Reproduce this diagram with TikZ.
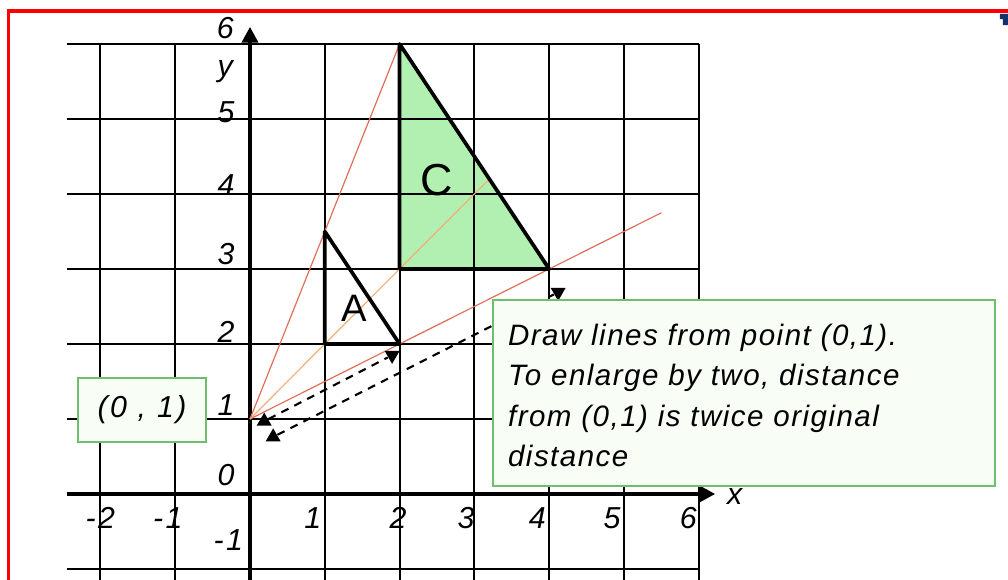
\documentclass[tikz,border=0pt]{standalone}
\usepackage{fontspec}
\setmainfont{Liberation Sans}[LetterSpace=8]
\newfontfamily\notefont{Liberation Sans}[LetterSpace=5,WordSpace=1.3]
\usetikzlibrary{arrows.meta,shapes.geometric}
\definecolor{redline}{RGB}{222,110,90}
\definecolor{orangeline}{RGB}{240,175,120}
\definecolor{cfill}{RGB}{178,240,178}
\definecolor{boxedge}{RGB}{110,190,110}
\definecolor{boxfill}{RGB}{248,253,246}
\definecolor{navymark}{RGB}{20,50,110}
\begin{document}
\begin{tikzpicture}[x=0.9973cm,y=1cm,
  gridline/.style={line width=0.75pt,black},
  axis/.style={line width=1.5pt,-{Triangle[length=6pt,width=6pt]}},
  lab/.style={font=\fontsize{11.5}{12}\selectfont\itshape,inner sep=0pt},
  tri/.style={line width=1.4pt,black,line join=round},
  ray/.style={line width=0.45pt,redline},
  measure/.style={line width=0.8pt,dash pattern=on 3pt off 2.5pt},
  tipmark/.style={fill=black,regular polygon,regular polygon sides=3,inner sep=0pt,minimum size=0.23cm},
  labelbox/.style={draw=boxedge,fill=boxfill,line width=0.8pt}]

\useasboundingbox (-3.3333cm,-1.1467cm) rectangle (10.1067cm,6.5867cm);

% red frame
\draw[red,line width=1.2pt] (-3.2173cm,-1.2cm) -- (-3.2173cm,6.44cm) -- (10.2cm,6.44cm);
\fill[navymark] (10.0cm,6.40cm) -- (10.2cm,6.40cm) -- (10.2cm,6.25cm) -- (10.04cm,6.25cm) -- (10.04cm,6.33cm) -- (10.0cm,6.33cm) -- cycle;

% triangle C fill
\coordinate (C1) at (2,3);
\coordinate (C2) at (4,3);
\coordinate (C3) at (2,6);
\fill[cfill] (C1) -- (C2) -- (C3) -- cycle;

% grid
\foreach \y in {-1,1,2,...,6} \draw[gridline] (-2.45,\y) -- (6,\y);
\foreach \x in {-2,-1,1,2,...,6} \draw[gridline] (\x,-1.2) -- (\x,6);

% axes
\draw[axis] (-2.45,0) -- (6.22,0);
\draw[axis] (0,-1.2) -- (0,6.23);

% axis labels
\node[lab] (ly6) at (-0.33,6.21) {6};
\node[lab] (ly)  at (-0.33,5.63) {y};
\node[lab] (ly5) at (-0.32,5.09) {5};
\node[lab] (ly4) at (-0.32,4.12) {4};
\node[lab] (ly3) at (-0.32,3.20) {3};
\node[lab] (ly2) at (-0.32,2.16) {2};
\node[lab] (ly1) at (-0.32,1.19) {1};
\node[lab] (ly0) at (-0.32,0.25) {0};
\node[lab] (lym) at (-0.29,-0.61) {-1};
\node[lab] (lxm2) at (-2.0,-0.32) {-2};
\node[lab] (lxm1) at (-1.1,-0.32) {-1};
\node[lab] (lx1) at (0.84,-0.32) {1};
\node[lab] (lx2) at (1.98,-0.32) {2};
\node[lab] (lx3) at (2.89,-0.32) {3};
\node[lab] (lx4) at (3.84,-0.32) {4};
\node[lab] (lx5) at (4.84,-0.32) {5};
\node[lab] (lx6) at (5.86,-0.32) {6};
\node[lab] (lx)  at (6.48,-0.04) {x};

% rays from (0,1)
\coordinate (O) at (0,1);
\coordinate (R1) at (2,6);
\coordinate (R2) at (5.5,3.75);
\coordinate (R3) at (3.2,4.2);
\draw[ray] (O) -- (R1);
\draw[ray] (O) -- (R2);
\draw[ray,orangeline] (O) -- (R3);

% triangles
\coordinate (A1) at (1,2);
\coordinate (A2) at (2,2);
\coordinate (A3) at (1,3.5);
\draw[tri] (A1) -- (A2) -- (A3) -- cycle;
\draw[tri] (C1) -- (C2) -- (C3) -- cycle;
\node[inner sep=0pt,font=\fontsize{14.5}{15}\selectfont] (labA) at (1.4,2.48) {A};
\node[inner sep=0pt,font=\fontsize{17}{18}\selectfont] (labC) at (2.5,4.19) {C};

% measuring lines
\node[tipmark] (s1) at (0.19,0.97) {};
\node[tipmark,rotate=180] (e1) at (1.9,1.85) {};
\node[tipmark] (s2) at (0.31,0.76) {};
\node[tipmark,rotate=180] (e2) at (4.12,2.69) {};
\draw[measure] (s1) -- (e1);
\draw[measure] (s2) -- (e2);

% boxes
\node[labelbox,minimum width=1.707cm,minimum height=0.853cm,inner sep=0pt,font=\fontsize{11.5}{12}\selectfont\itshape] (pt) at (-1.444,1.12) {(0 , 1)};
\node[labelbox,minimum width=6.693cm,minimum height=2.48cm,text width=6.29cm,inner xsep=0.2cm,align=left,font=\notefont\fontsize{11.2}{15.2}\selectfont\itshape] (note) at (6.604,1.347) {\rule{0pt}{10pt}Draw lines from point (0,1).\\To enlarge by two, distance\\from (0,1) is twice original\\distance};
\end{tikzpicture}
\end{document}
